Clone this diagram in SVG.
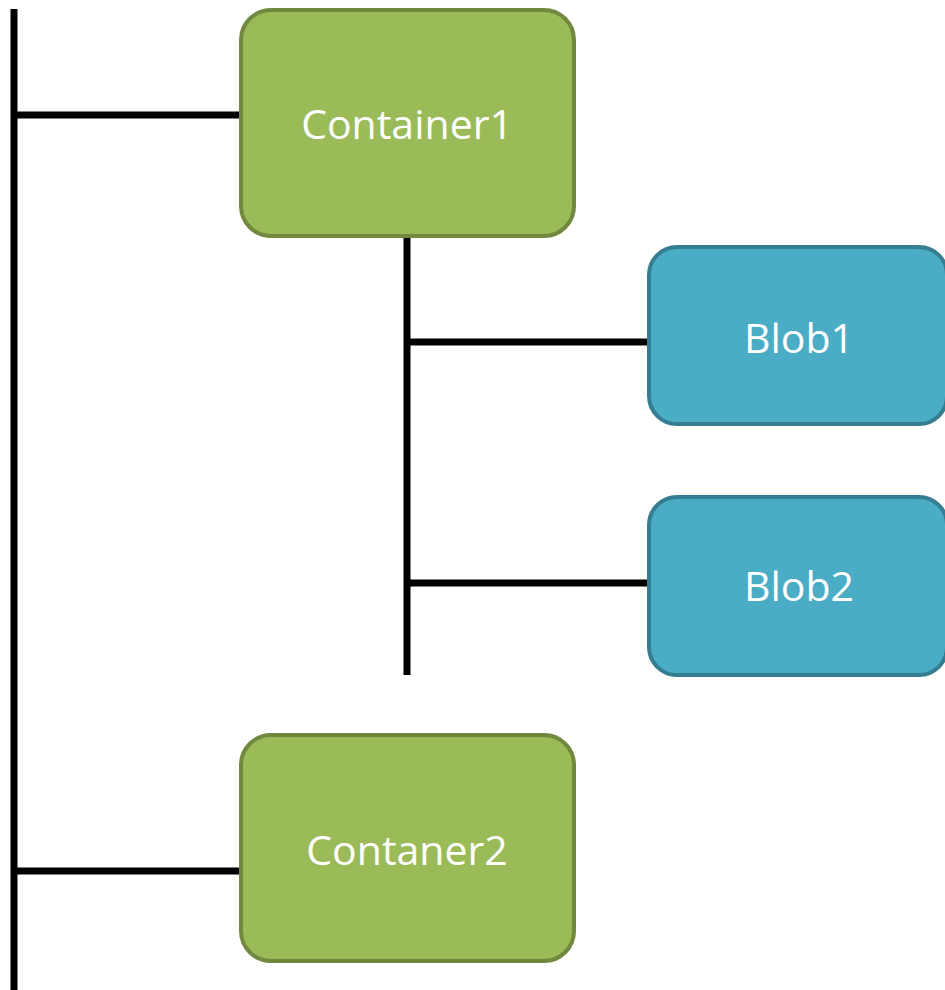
<svg xmlns="http://www.w3.org/2000/svg" width="945" height="990" viewBox="0 0 945 990">
  <style>
    .wire { stroke: #000000; stroke-width: 7; fill: none; }
    .container rect { fill: #9BBB59; stroke: #71893F; stroke-width: 4; }
    .blob rect { fill: #4BACC6; stroke: #357D91; stroke-width: 4; }
    .label { font-family: "Open Sans", "Noto Sans", "Liberation Sans", sans-serif; font-size: 41px; fill: #FFFFFF; text-anchor: middle; }
  </style>
  <rect x="0" y="0" width="945" height="990" fill="#FFFFFF"/>

  <!-- tree connectors -->
  <g id="connectors">
    <line class="wire" x1="14" y1="9" x2="14" y2="990"/>
    <line class="wire" x1="14" y1="115" x2="240" y2="115"/>
    <line class="wire" x1="14" y1="871" x2="240" y2="871"/>
    <line class="wire" x1="407" y1="236" x2="407" y2="675"/>
    <line class="wire" x1="407" y1="342" x2="648" y2="342"/>
    <line class="wire" x1="407" y1="583" x2="648" y2="583"/>
  </g>

  <g id="container1" class="container">
    <rect x="241" y="10" width="333" height="226" rx="30" ry="30"/>
    <text class="label" x="407" y="139">Container1</text>
  </g>

  <g id="blob1" class="blob">
    <rect x="649" y="247" width="298" height="177" rx="28" ry="28"/>
    <text class="label" x="799" y="353">Blob1</text>
  </g>

  <g id="blob2" class="blob">
    <rect x="649" y="497" width="298" height="178" rx="28" ry="28"/>
    <text class="label" x="799" y="601">Blob2</text>
  </g>

  <g id="container2" class="container">
    <rect x="241" y="735" width="333" height="226" rx="30" ry="30"/>
    <text class="label" x="407" y="865">Contaner2</text>
  </g>
</svg>
